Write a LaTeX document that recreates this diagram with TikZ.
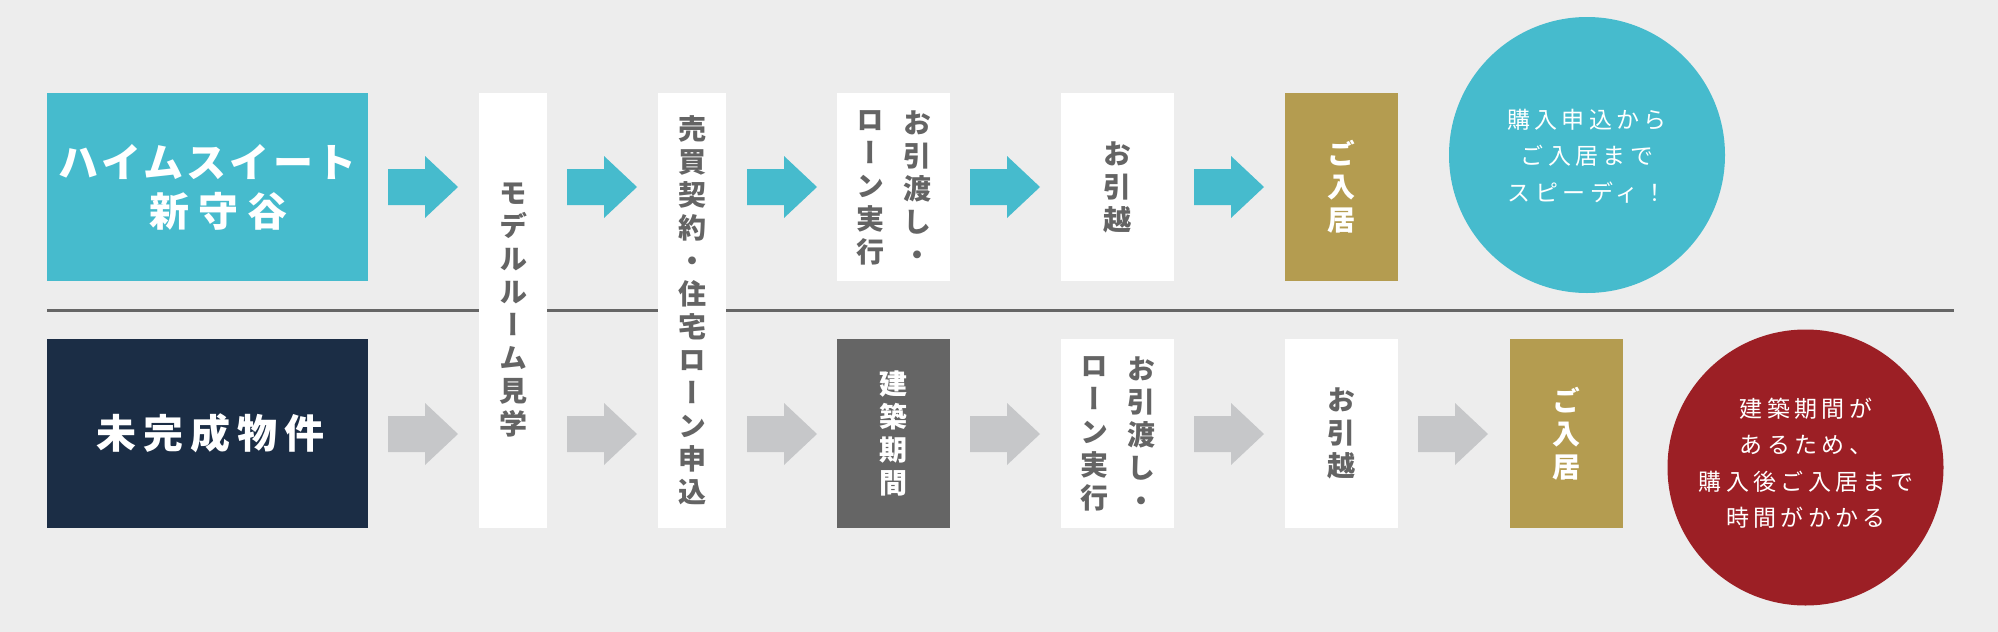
\documentclass[tikz,border=0pt]{standalone}
\usepackage{fontspec}
\newfontfamily\jp{Noto Sans CJK JP}
\newfontfamily\jpv{Noto Sans CJK JP}[RawFeature=+vert]
\newfontfamily\jpka{Noto Sans CJK JP}[LetterSpace=8]
\newfontfamily\jpkb{Noto Sans CJK JP}[LetterSpace=22]
\newfontfamily\jpkc{Noto Sans CJK JP}[LetterSpace=17]
\newfontfamily\jplt{Noto Sans CJK JP}[LetterSpace=19]
\definecolor{bg}{HTML}{EDEDED}
\definecolor{tealc}{HTML}{46BBCD}
\definecolor{navyc}{HTML}{1B2D45}
\definecolor{goldc}{HTML}{B49C50}
\definecolor{dgrayc}{HTML}{656565}
\definecolor{tgrayc}{HTML}{646464}
\definecolor{lgrayc}{HTML}{C6C7C9}
\definecolor{winec}{HTML}{9C1F25}
\definecolor{linec}{HTML}{666666}
\newcommand\blockarr[3]{\fill[#1] (#2,#3) ++(0,-18) -- ++(37,0) -- ++(0,-13) -- ++(33,31) -- ++(-33,31) -- ++(0,-13) -- ++(-37,0) -- cycle;}
\begin{document}
\begin{tikzpicture}[x=1pt,y=-1pt,
  panel/.style={rectangle, inner sep=0pt, minimum width=113pt, minimum height=188pt},
  tallpanel/.style={rectangle, inner sep=0pt, fill=white, minimum width=68pt, minimum height=435pt},
  bigpanel/.style={rectangle, inner sep=0pt, minimum width=321pt, minimum height=188pt, text=white, align=center, font=\bfseries\fontsize{40}{49}\selectfont},
  vtxt/.style={font=\jpv\bfseries\fontsize{28}{33}\selectfont, align=center, text=tgrayc, inner sep=0pt},
  bubble/.style={circle, inner sep=0pt, minimum size=276pt},
  bubtxt/.style={font=\jplt\fontsize{23}{36.5}\selectfont, align=center, text=white, inner sep=0pt}
]
\fill[bg] (0,0) rectangle (1998,632);
\useasboundingbox (0,0) rectangle (1998,632);
% divider
\coordinate (divL) at (47,310);
\coordinate (divR) at (1954,310);
\draw[linec, line width=3pt] (divL) -- (divR);
% first column
\node[bigpanel, fill=tealc] (b1) at (207.5,187) {{\jpka ハイムスイート}\\\hspace*{22pt}{\jpkb 新守谷}};
\node[bigpanel, fill=navyc, minimum height=189pt] (n1) at (207.5,433.5) {\hspace*{6pt}{\jpkc 未完成物件}};
% tall boxes
\node[tallpanel, vtxt] (b2) at (513,310.5) {モ\\デ\\ル\\ル\\ー\\ム\\見\\学};
\node[tallpanel, vtxt] (b3) at (692,310.5) {売\\買\\契\\約\\・\\住\\宅\\ロ\\ー\\ン\\申\\込};
% top row
\node[panel, fill=white] (t4) at (893.5,187) {};
\node[vtxt] (t4r) at (917.5,188) {お\\引\\渡\\し\\・};
\node[vtxt] (t4l) at (870,188) {ロ\\ー\\ン\\実\\行};
\node[panel, fill=white, vtxt] (t5) at (1117.5,187) {お\\引\\越};
\node[panel, fill=goldc, vtxt, text=white] (t6) at (1341.5,187) {ご\\入\\居};
\node[bubble, fill=tealc] (c1) at (1587,155) {};
\node[bubtxt] (c1t) at (1587,156) {購入申込から\\ご入居まで\\スピーディ！};
% bottom row
\node[panel, fill=dgrayc, vtxt, text=white, minimum height=189pt] (u4) at (893.5,433.5) {建\\築\\期\\間};
\node[panel, fill=white, minimum height=189pt] (u5) at (1117.5,433.5) {};
\node[vtxt] (u5r) at (1141,434) {お\\引\\渡\\し\\・};
\node[vtxt] (u5l) at (1094,434) {ロ\\ー\\ン\\実\\行};
\node[panel, fill=white, vtxt, minimum height=189pt] (u6) at (1341.5,433.5) {お\\引\\越};
\node[panel, fill=goldc, vtxt, text=white, minimum height=189pt] (u7) at (1566,433.5) {ご\\入\\居};
\node[bubble, fill=winec] (c2) at (1805.5,467.5) {};
\node[bubtxt] (c2t) at (1806,463) {建築期間が\\あるため、\\購入後ご入居まで\\時間がかかる};
% arrows
\blockarr{tealc}{388}{187}
\blockarr{tealc}{567}{187}
\blockarr{tealc}{747}{187}
\blockarr{tealc}{970}{187}
\blockarr{tealc}{1194}{187}
\blockarr{lgrayc}{388}{434}
\blockarr{lgrayc}{567}{434}
\blockarr{lgrayc}{747}{434}
\blockarr{lgrayc}{970}{434}
\blockarr{lgrayc}{1194}{434}
\blockarr{lgrayc}{1418}{434}
\end{tikzpicture}
\end{document}
